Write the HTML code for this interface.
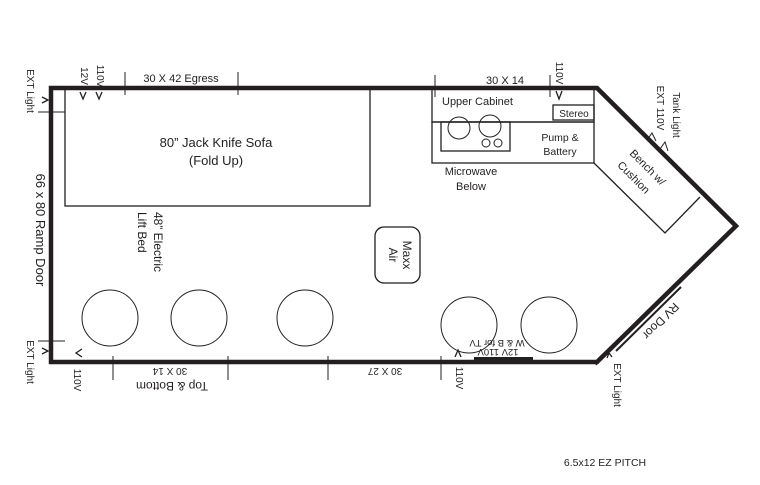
<!DOCTYPE html>
<html><head><style>html,body{margin:0;padding:0;background:#fff}svg{display:block}text{font-family:"Liberation Sans",sans-serif;fill:#231f20}</style></head><body>
<svg width="760" height="485" viewBox="0 0 760 485" xmlns="http://www.w3.org/2000/svg">
<g fill="none" stroke="#231f20">
<path d="M51,88 H597 L736,226 L597,362 H51 Z" stroke-width="4.5" stroke-linejoin="miter"/>
<rect x="65" y="89" width="305" height="117" stroke-width="1.3"/>
<line x1="38" y1="112" x2="65" y2="112" stroke-width="1"/>
<line x1="38" y1="341" x2="65" y2="341" stroke-width="1"/>
<line x1="125" y1="72" x2="125" y2="95" stroke-width="1"/>
<line x1="238" y1="72" x2="238" y2="95" stroke-width="1"/>
<line x1="435" y1="75" x2="435" y2="97" stroke-width="1"/>
<line x1="550" y1="75" x2="550" y2="97" stroke-width="1"/>
<rect x="432" y="89" width="162" height="33" stroke-width="1.3"/>
<rect x="553" y="105" width="41" height="15" stroke-width="1.3"/>
<rect x="432" y="122" width="162" height="41" stroke-width="1.3"/>
<rect x="441" y="122" width="69" height="29" stroke-width="1.3"/>
<circle cx="459" cy="128" r="11"/><circle cx="490" cy="126" r="11"/>
<circle cx="486" cy="143" r="4"/><circle cx="498" cy="143" r="4"/>
<path d="M594,163 L665,233 L700,197" stroke-width="1.3"/>
<rect x="375" y="227" width="45" height="56" rx="9" stroke-width="1.3"/>
<circle cx="110" cy="318" r="28"/><circle cx="199" cy="318" r="28"/><circle cx="305" cy="318" r="28"/>
<circle cx="469" cy="325" r="28"/><circle cx="549" cy="325" r="28"/>
<line x1="113" y1="356" x2="113" y2="380" stroke-width="1"/>
<line x1="228" y1="356" x2="228" y2="380" stroke-width="1"/>
<line x1="328" y1="356" x2="328" y2="380" stroke-width="1"/>
<line x1="441" y1="356" x2="441" y2="380" stroke-width="1"/>
<line x1="616" y1="351" x2="681" y2="287" stroke-width="2"/>
<line x1="595" y1="364" x2="605" y2="354" stroke-width="4"/>
<path d="M42,97 L48,100 L42,103" stroke-width="1.3"/>
<path d="M42,348 L48,351 L42,354" stroke-width="1.3"/>
<path d="M80,92 L83,99 L86,92" stroke-width="1.3"/>
<path d="M96,92 L99,99 L102,92" stroke-width="1.3"/>
<path d="M556,91 L559,99 L562,91" stroke-width="1.3"/>
<path d="M82,349 L76,353 L82,357" stroke-width="1.3"/>
<path d="M455,357 L458,350 L461,357" stroke-width="1.3"/>
<path d="M607,358 L609,353 L612,357" stroke-width="1.3"/>
<path d="M647,140 L652,133 L656,141"/>
<path d="M660,149 L665,142 L668,151"/>
</g>
<rect x="474" y="357" width="59" height="5" fill="#231f20"/>
<g font-size="11">
<text x="181" y="82" text-anchor="middle">30 X 42 Egress</text>
<text x="505" y="84" text-anchor="middle">30 X 14</text>
<text x="442" y="105">Upper Cabinet</text>
<text x="574" y="117" text-anchor="middle" font-size="10">Stereo</text>
<text x="560" y="141" text-anchor="middle" font-size="10.5">Pump &amp;</text>
<text x="560" y="155" text-anchor="middle" font-size="10.5">Battery</text>
<text x="471" y="175" text-anchor="middle">Microwave</text>
<text x="471" y="190" text-anchor="middle">Below</text>
<text x="216" y="147" text-anchor="middle" font-size="13">80” Jack Knife Sofa</text>
<text x="216" y="165" text-anchor="middle" font-size="13">(Fold Up)</text>
<text x="605" y="466" font-size="10.5" text-anchor="middle">6.5x12 EZ PITCH</text>
<text transform="translate(27,91) rotate(90)" text-anchor="middle" font-size="10">EXT Light</text>
<text transform="translate(27,362) rotate(90)" text-anchor="middle" font-size="10">EXT Light</text>
<text transform="translate(81,76) rotate(90)" text-anchor="middle" font-size="10">12V</text>
<text transform="translate(97,76) rotate(90)" text-anchor="middle" font-size="10">110V</text>
<text transform="translate(556,73) rotate(90)" text-anchor="middle" font-size="10">110V</text>
<text transform="translate(36,230) rotate(90)" text-anchor="middle" font-size="13">66 x 80 Ramp Door</text>
<text transform="translate(154,212) rotate(90)" font-size="12">48” Electric</text>
<text transform="translate(138,212) rotate(90)" font-size="12">Lift Bed</text>
<text transform="translate(403,255) rotate(90)" text-anchor="middle" font-size="12">Maxx</text>
<text transform="translate(389,255) rotate(90)" text-anchor="middle" font-size="12">Air</text>
<text transform="translate(74,380) rotate(90)" text-anchor="middle" font-size="10">110V</text>
<text transform="translate(456,378) rotate(90)" text-anchor="middle" font-size="10">110V</text>
<text transform="translate(170,368) rotate(180)" text-anchor="middle" font-size="10">30 X 14</text>
<text transform="translate(172,382) rotate(180)" text-anchor="middle" font-size="12">Top &amp; Bottom</text>
<text transform="translate(385,368) rotate(180)" text-anchor="middle" font-size="10">30 X 27</text>
<text transform="translate(498,349) rotate(180)" text-anchor="middle" font-size="9.5">12V 110V</text>
<text transform="translate(497,340) rotate(180)" text-anchor="middle" font-size="9.5">W &amp; B for TV</text>
<text transform="translate(614,385) rotate(90)" text-anchor="middle" font-size="10">EXT Light</text>
<text transform="translate(658,318) rotate(135)" text-anchor="middle" font-size="12">RV Door</text>
<text transform="translate(645,170) rotate(45)" text-anchor="middle" font-size="11">Bench w/</text>
<text transform="translate(631,180) rotate(45)" text-anchor="middle" font-size="11">Cushion</text>
<text transform="translate(657,108) rotate(90)" text-anchor="middle" font-size="10">EXT 110V</text>
<text transform="translate(673,115) rotate(90)" text-anchor="middle" font-size="10">Tank Light</text>
</g>
</svg>
</body></html>
